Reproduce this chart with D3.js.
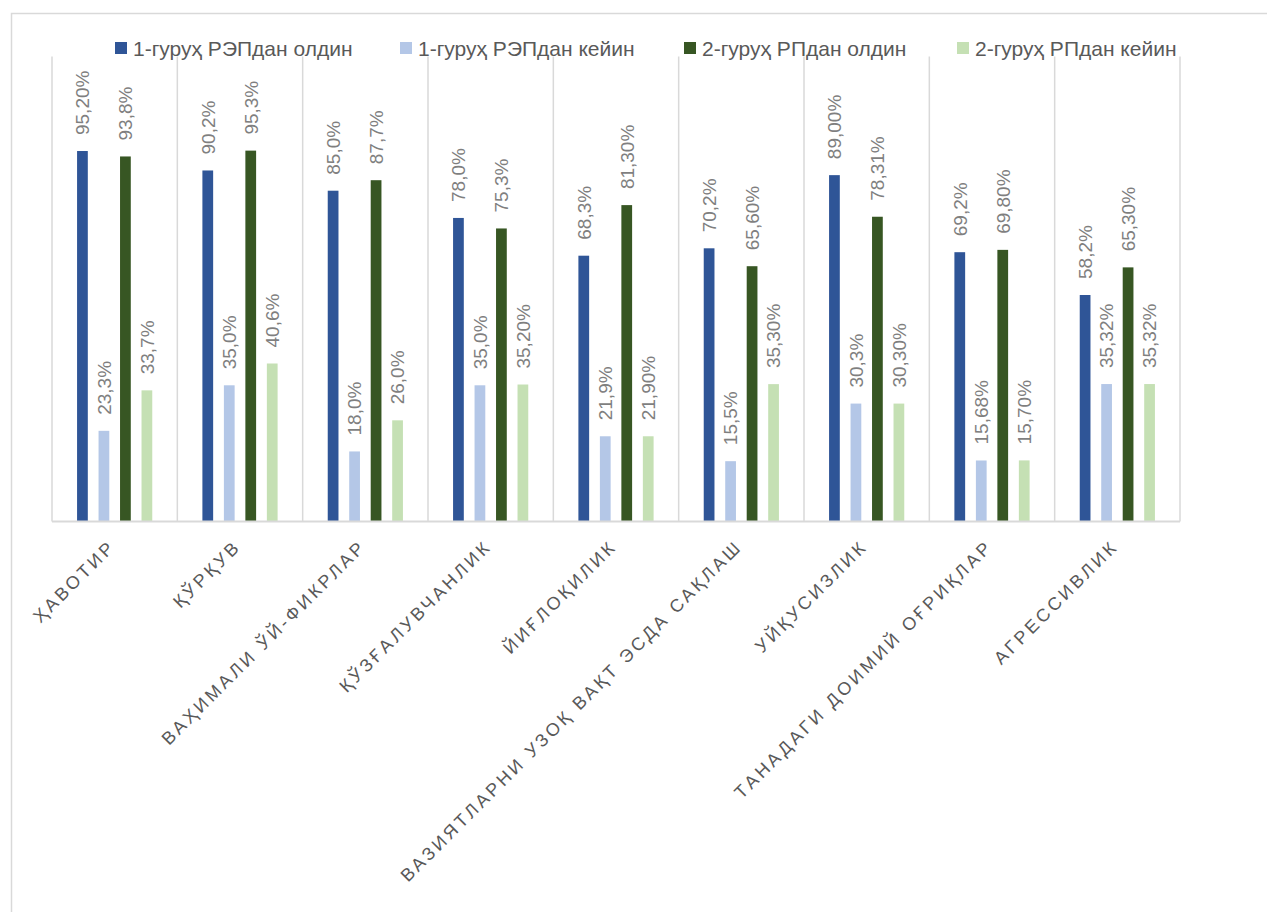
<!DOCTYPE html>
<html>
<head>
<meta charset="utf-8">
<script src="https://cdn.jsdelivr.net/npm/d3@7"></script>
<style>
  html, body { margin: 0; padding: 0; background: #ffffff; }
  svg { display: block; font-family: "Liberation Sans", Arial, sans-serif; }
</style>
</head>
<body>
<svg id="chart" width="1267" height="912"></svg>
<script>
// Symptom categories along the x axis
const categories = [
  "ҲАВОТИР",
  "ҚЎРҚУВ",
  "ВАҲИМАЛИ ЎЙ-ФИКРЛАР",
  "ҚЎЗҒАЛУВЧАНЛИК",
  "ЙИҒЛОҚИЛИК",
  "ВАЗИЯТЛАРНИ УЗОҚ ВАҚТ ЭСДА САҚЛАШ",
  "УЙҚУСИЗЛИК",
  "ТАНАДАГИ ДОИМИЙ ОҒРИҚЛАР",
  "АГРЕССИВЛИК"
];

// Series names (legend order)
const seriesNames = [
  "1-гуруҳ РЭПдан олдин",
  "1-гуруҳ РЭПдан кейин",
  "2-гуруҳ РПдан олдин",
  "2-гуруҳ РПдан кейин"
];

// Percent values per series, one per category
const group1Before = [95.2, 90.2, 85.0, 78.0, 68.3, 70.2, 89.0, 69.2, 58.2];
const group1After  = [23.3, 35.0, 18.0, 35.0, 21.9, 15.5, 30.3, 15.68, 35.32];
const group2Before = [93.8, 95.3, 87.7, 75.3, 81.3, 65.6, 78.31, 69.8, 65.3];
const group2After  = [33.7, 40.6, 26.0, 35.2, 21.9, 35.3, 30.3, 15.7, 35.32];

// Number of decimals shown in each value label
const group1BeforeDecimals = [2, 1, 1, 1, 1, 1, 2, 1, 1];
const group1AfterDecimals  = [1, 1, 1, 1, 1, 1, 1, 2, 2];
const group2BeforeDecimals = [1, 1, 1, 1, 2, 2, 2, 2, 2];
const group2AfterDecimals  = [1, 1, 1, 2, 2, 2, 2, 2, 2];

// Value axis range (axis itself is hidden)
const yTicks = [0, 20, 40, 60, 80, 100, 120];

const seriesColors = ["#2F5597", "#B4C7E7", "#375623", "#C5E0B4"];

const seriesValues = [group1Before, group1After, group2Before, group2After];
const seriesDecimals = [group1BeforeDecimals, group1AfterDecimals, group2BeforeDecimals, group2AfterDecimals];

const svg = d3.select("#chart");
const W = 1267, H = 912;

// Chart frame
svg.append("rect")
  .attr("x", 11.5).attr("y", 13.5)
  .attr("width", W + 10).attr("height", H + 10)
  .attr("fill", "#ffffff")
  .attr("stroke", "#d9d9d9").attr("stroke-width", 1.5);

const plot = { left: 52, right: 1180, top: 54.5, bottom: 521.5 };

const x0 = d3.scaleBand()
  .domain(categories)
  .range([plot.left, plot.right])
  .paddingInner(0).paddingOuter(0);

const bw = x0.bandwidth();
const x1 = d3.scaleBand()
  .domain(seriesNames)
  .range([bw * 0.2, bw * 0.8])
  .paddingInner(0.5).paddingOuter(0);

const y = d3.scaleLinear()
  .domain([yTicks[0], yTicks[yTicks.length - 1]])
  .range([plot.bottom, plot.top]);

// Vertical category separators
const sepPositions = categories.map(c => x0(c)).concat([x0.range()[1]]);
svg.append("g").selectAll("line")
  .data(sepPositions)
  .join("line")
  .attr("x1", d => d).attr("x2", d => d)
  .attr("y1", plot.top + 2).attr("y2", plot.bottom)
  .attr("stroke", "#d9d9d9").attr("stroke-width", 1.5);

// Bars
const flat = [];
categories.forEach((c, i) => {
  seriesNames.forEach((s, k) => {
    flat.push({
      cat: c, series: s, k,
      value: seriesValues[k][i],
      dec: seriesDecimals[k][i]
    });
  });
});

svg.append("g").selectAll("rect")
  .data(flat)
  .join("rect")
  .attr("x", d => x0(d.cat) + x1(d.series))
  .attr("y", d => y(d.value))
  .attr("width", x1.bandwidth())
  .attr("height", d => y(0) - y(d.value))
  .attr("fill", d => seriesColors[d.k]);

// Value labels, rotated vertically above each bar
const fmt = d => d.value.toFixed(d.dec).replace(".", ",") + "%";
svg.append("g").selectAll("text")
  .data(flat)
  .join("text")
  .attr("transform", d => {
    const cx = x0(d.cat) + x1(d.series) + x1.bandwidth() / 2;
    const cy = y(d.value) - 16;
    return `translate(${cx},${cy}) rotate(-90)`;
  })
  .attr("dy", "0.36em")
  .attr("text-anchor", "start")
  .attr("font-size", 19)
  .attr("fill", "#7f7f7f")
  .text(fmt);

// Category axis baseline
svg.append("line")
  .attr("x1", plot.left).attr("x2", plot.right)
  .attr("y1", plot.bottom).attr("y2", plot.bottom)
  .attr("stroke", "#d9d9d9").attr("stroke-width", 2);

// Category labels at -45 degrees
const xAxis = d3.axisBottom(x0).tickSize(0).tickPadding(0);
const gx = svg.append("g")
  .attr("transform", `translate(0,${plot.bottom})`)
  .call(xAxis);
gx.select(".domain").remove();
gx.selectAll("text")
  .attr("transform", "translate(2,26) rotate(-45)")
  .attr("x", 0).attr("y", 0).attr("dy", 0)
  .attr("text-anchor", "end")
  .attr("font-family", "'Liberation Sans', Arial, sans-serif")
  .attr("font-size", 18)
  .attr("letter-spacing", "3.2px")
  .attr("fill", "#595959");

// Legend
const legendX = [115, 400, 684, 957];
const legend = svg.append("g");
seriesNames.forEach((s, k) => {
  const g = legend.append("g").attr("transform", `translate(${legendX[k]},48)`);
  g.append("rect")
    .attr("x", 0).attr("y", -6)
    .attr("width", 12).attr("height", 12)
    .attr("fill", seriesColors[k]);
  g.append("text")
    .attr("x", 18).attr("y", 0).attr("dy", "0.36em")
    .attr("font-size", 21)
    .attr("fill", "#595959")
    .text(s);
});
</script>
</body>
</html>
